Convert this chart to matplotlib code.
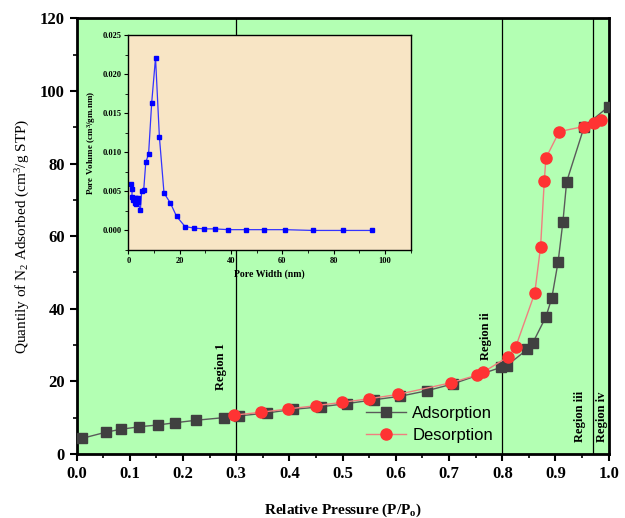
import numpy as np
import matplotlib
matplotlib.use("Agg")
import matplotlib.pyplot as plt
from matplotlib.ticker import MultipleLocator, FormatStrFormatter

plt.rcParams["font.family"] = ["Liberation Serif", "DejaVu Serif"]
plt.rcParams["mathtext.fontset"] = "custom"
plt.rcParams["mathtext.rm"] = "Liberation Serif"
plt.rcParams["mathtext.bf"] = "Liberation Serif:bold"
plt.rcParams["mathtext.it"] = "Liberation Serif:italic"

# isotherm: adsorption branch
ads_p = [0.010, 0.055, 0.083, 0.118, 0.153, 0.185, 0.225, 0.276, 0.306, 0.358,
         0.407, 0.459, 0.509, 0.558, 0.608, 0.658, 0.707, 0.798, 0.808, 0.847,
         0.857, 0.882, 0.893, 0.905, 0.914, 0.921, 0.954, 1.000]
ads_q = [4.3, 6.0, 6.8, 7.5, 8.0, 8.6, 9.3, 10.0, 10.5, 11.3,
         12.3, 13.0, 13.9, 14.9, 15.9, 17.4, 19.3, 23.9, 24.3, 28.8,
         30.5, 37.8, 42.9, 53.0, 64.0, 75.0, 90.2, 95.7]

# isotherm: desorption branch
des_p = [0.296, 0.347, 0.397, 0.449, 0.498, 0.549, 0.604, 0.703, 0.752, 0.764,
         0.811, 0.825, 0.861, 0.872, 0.879, 0.882, 0.907, 0.953, 0.972, 0.985]
des_q = [10.7, 11.5, 12.4, 13.3, 14.2, 15.2, 16.4, 19.6, 21.7, 22.5,
         26.8, 29.4, 44.3, 57.1, 75.3, 81.5, 88.8, 90.2, 91.1, 92.0]

# pore size distribution (inset)
pore_w = [0.9, 1.5, 1.4, 1.9, 2.6, 2.6, 3.1, 3.1, 3.8, 3.8, 4.7, 5.2, 6.0,
          6.8, 7.9, 9.1, 10.6, 12.1, 13.9, 16.4, 18.8, 22.1, 25.6, 29.5,
          33.6, 39.0, 46.0, 53.0, 61.0, 71.8, 83.8, 95.1]
pore_v = [0.0059, 0.0053, 0.0043, 0.0039, 0.0042, 0.0035, 0.0042, 0.0034,
          0.0042, 0.0036, 0.0026, 0.0050, 0.0052, 0.0087, 0.0098, 0.0163,
          0.0221, 0.0120, 0.0048, 0.0035, 0.0018, 0.0005, 0.0003, 0.0002,
          0.0002, 0.0001, 0.0001, 0.0001, 0.0001, 0.0000, 0.0000, 0.0000]

region_x = [0.3, 0.8, 0.97]
region_labels = ["Region 1", "Region ii", "Region iii", "Region iv"]
label_x = [0.272, 0.77, 0.946, 0.987]
label_y = [17.5, 26.0, 3.3, 3.3]

fig = plt.figure(figsize=(6.25, 5.18), dpi=100)
ax = fig.add_axes([0.1227, 0.1236, 0.8512, 0.841])
ax.set_facecolor("#b3ffb3")

ax.plot(ads_p, ads_q, color="#5a5a5a", lw=1, marker="s", ms=7,
        mfc="#404040", mec="#404040", label="Adsorption", zorder=3)
ax.plot(des_p, des_q, color="#f07f7f", lw=1, marker="o", ms=8,
        mfc="#ff3333", mec="#ff3333", label="Desorption", zorder=4)

for xv in region_x:
    ax.axvline(xv, color="black", lw=0.9, zorder=2)
for lx, ly, txt in zip(label_x, label_y, region_labels):
    ax.text(lx, ly, txt, rotation=90, ha="center", va="bottom",
            fontsize=9, fontweight="bold")

ax.set_xlim(0, 1.0)
ax.set_ylim(0, 120)
ax.xaxis.set_major_locator(MultipleLocator(0.1))
ax.xaxis.set_minor_locator(MultipleLocator(0.05))
ax.yaxis.set_major_locator(MultipleLocator(20))
ax.yaxis.set_minor_locator(MultipleLocator(10))
ax.xaxis.set_major_formatter(FormatStrFormatter("%.1f"))
ax.tick_params(which="major", direction="out", length=5, width=1.5,
               labelsize=12, top=False, right=False)
ax.tick_params(which="minor", direction="out", length=3, width=1.2,
               top=False, right=False)
for lab in ax.get_xticklabels() + ax.get_yticklabels():
    lab.set_fontweight("bold")
for sp in ax.spines.values():
    sp.set_linewidth(2)

ax.set_xlabel(r"Relative Pressure (P/P$_\mathbf{o}$)", fontsize=11,
              fontweight="bold", labelpad=14)
ax.set_ylabel(r"Quantily of N$_2$ Adsorbed (cm$^3$/g STP)", fontsize=11,
              labelpad=6)

ax.legend(loc="lower left", bbox_to_anchor=(0.515, -0.01), frameon=False,
          prop={"family": "Liberation Sans", "size": 12},
          handlelength=2.4, handletextpad=0.4, labelspacing=0.45)

# inset: pore size distribution
ins = fig.add_axes([0.2053, 0.5174, 0.4518, 0.415])
ins.set_facecolor("#f8e5c5")
ins.plot(pore_w, pore_v, color="#3333ff", lw=0.9, marker="s", ms=3.2,
         mfc="#0000ff", mec="#0000ff")
ins.set_xlim(0, 110)
ins.set_ylim(-0.0025, 0.025)
ins.xaxis.set_major_locator(MultipleLocator(20))
ins.xaxis.set_minor_locator(MultipleLocator(10))
ins.yaxis.set_major_locator(MultipleLocator(0.005))
ins.yaxis.set_minor_locator(MultipleLocator(0.0025))
ins.yaxis.set_major_formatter(FormatStrFormatter("%.3f"))
ins.tick_params(which="major", direction="out", length=3, width=0.8,
                labelsize=6, pad=2)
ins.tick_params(which="minor", direction="out", length=2, width=0.6)
for lab in ins.get_xticklabels() + ins.get_yticklabels():
    lab.set_fontweight("bold")
for sp in ins.spines.values():
    sp.set_linewidth(1)
ins.set_xlabel("Pore Width (nm)", fontsize=7, fontweight="bold", labelpad=3)
ins.set_ylabel(r"Pore Volume (cm$^\mathbf{3}$/gm.nm)", fontsize=6.5,
               fontweight="bold", labelpad=3)

fig.savefig("out.png", dpi=100)
